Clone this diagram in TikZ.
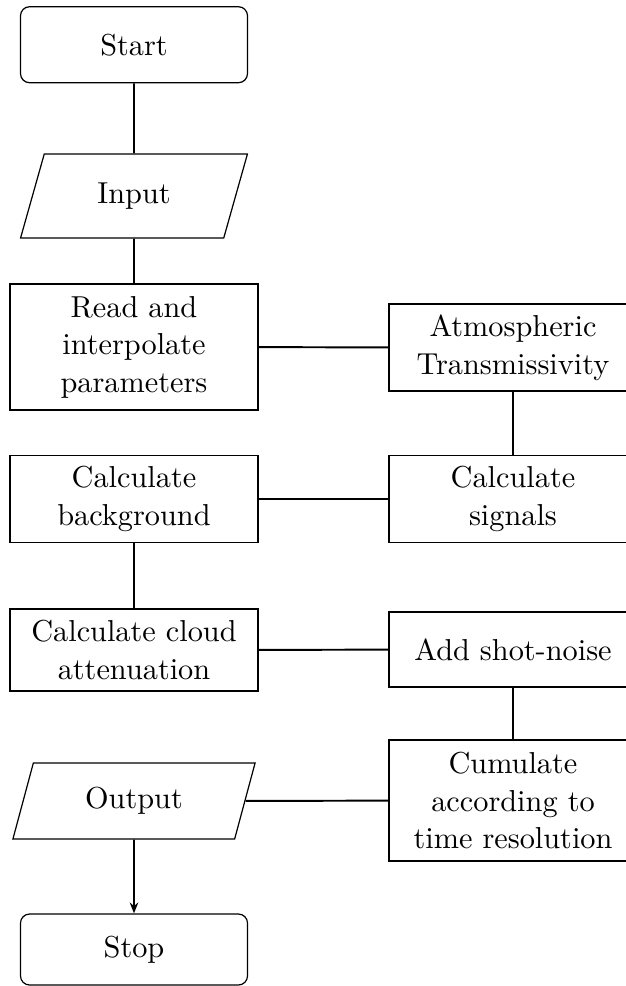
\documentclass[tikz,border=0pt]{standalone}
\usetikzlibrary{shapes.geometric,arrows.meta}
\begin{document}
\begin{tikzpicture}[x=0.33pt,y=-0.33pt,
  box/.style={draw,line width=0.4pt,inner sep=0pt,align=center,minimum width=81.84pt,font=\fontsize{10}{12.4}\selectfont},
  term/.style={box,rounded corners=3pt,minimum width=74.91pt},
  io/.style={draw,line width=0.4pt,inner sep=0pt,align=center,trapezium,trapezium left angle=70,trapezium right angle=110,trapezium stretches=true,font=\fontsize{10}{12.4}\selectfont},
  conn/.style={line width=0.65pt}]
\useasboundingbox (0,0) rectangle (626,986);
\clip (0,0) rectangle (626,986);
% left column
\node[term,minimum height=25.08pt] (start) at (134,44.7) {Start};
\node[io,minimum width=74.91pt,minimum height=27.72pt] (input) at (134,196) {Input};
\node[box,minimum height=41.58pt] (read) at (134,347) {Read and\\interpolate\\parameters};
\node[box,minimum height=28.71pt] (bg) at (134,499) {Calculate\\background};
\node[box,minimum height=27.06pt] (cloud) at (134,650) {Calculate cloud\\attenuation};
\node[io,minimum width=80.19pt,minimum height=25.08pt] (output) at (134,801) {Output};
\node[term,minimum height=23.43pt] (stop) at (134,949.5) {Stop};
% right column
\node[box,minimum height=28.71pt] (atm) at (513,347.5) {Atmospheric\\Transmissivity};
\node[box,minimum height=28.71pt] (sig) at (513,499) {Calculate\\signals};
\node[box,minimum height=24.75pt] (shot) at (513,649.5) {Add shot-noise};
\node[box,minimum height=39.93pt] (cum) at (513,800.5) {Cumulate\\according to\\time resolution};
% connectors
\draw[conn] (start) -- (input);
\draw[conn] (input) -- (read);
\draw[conn] (read) -- (atm);
\draw[conn] (atm) -- (sig);
\draw[conn] (sig) -- (bg);
\draw[conn] (bg) -- (cloud);
\draw[conn] (cloud) -- (shot);
\draw[conn] (shot) -- (cum);
\draw[conn] (cum) -- (output);
\draw[conn,-{Stealth[length=3.6pt,width=2.8pt]}] (output) -- (stop);
\end{tikzpicture}
\end{document}
